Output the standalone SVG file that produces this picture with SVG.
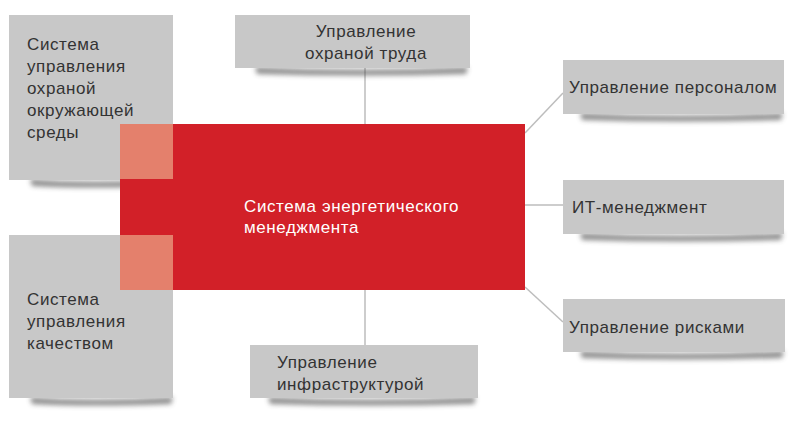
<svg xmlns="http://www.w3.org/2000/svg" width="797" height="423" viewBox="0 0 797 423">
<defs>
<filter id="sh" x="-20%" y="-100%" width="140%" height="300%"><feGaussianBlur stdDeviation="2.5"/></filter>
<style>
.box{fill:#c8c8c8}
.shd{fill:#444;opacity:0.6;filter:url(#sh)}
.t{font-family:"Liberation Sans",Arial,sans-serif;font-size:17px;letter-spacing:0.6px;fill:#333}
.tw{font-family:"Liberation Sans",Arial,sans-serif;font-size:17px;letter-spacing:0.6px;fill:#fff}
.c{stroke:#bdbdbd;stroke-width:1.5;fill:none}
</style>
</defs>
<g id="connectors">
<line class="c" x1="365" y1="68" x2="365" y2="124"/>
<line class="c" x1="365" y1="290" x2="365" y2="345"/>
<line class="c" x1="525" y1="133" x2="563" y2="93"/>
<line class="c" x1="525" y1="205" x2="563" y2="205"/>
<line class="c" x1="525" y1="287" x2="563" y2="322"/>
</g>
<g id="env">
<path class="shd" d="M30 179 Q90 184 173 179 L171 186 Q90 189 32 186 Z"/>
<rect class="box" x="9" y="15" width="164" height="165"/>
<text class="t" x="27" y="50">Система</text>
<text class="t" x="27" y="72">управления</text>
<text class="t" x="27" y="94">охраной</text>
<text class="t" x="27" y="116">окружающей</text>
<text class="t" x="27" y="138">среды</text>
</g>
<g id="quality">
<path class="shd" d="M30 397 Q90 402 173 397 L171 404 Q90 407 32 404 Z"/>
<rect class="box" x="9" y="235" width="164" height="163"/>
<text class="t" x="27" y="305">Система</text>
<text class="t" x="27" y="327">управления</text>
<text class="t" x="27" y="349">качеством</text>
</g>
<g id="labor">
<path class="shd" d="M255 67 Q360 72 468 67 L466 74 Q360 77 257 74 Z"/>
<rect class="box" x="235" y="15" width="235" height="53"/>
<text class="t" x="366" y="37" text-anchor="middle">Управление</text>
<text class="t" x="366" y="59" text-anchor="middle">охраной труда</text>
</g>
<g id="infra">
<path class="shd" d="M268 397 Q370 402 476 397 L474 404 Q370 407 270 404 Z"/>
<rect class="box" x="250" y="345" width="228" height="53"/>
<text class="t" x="277" y="368">Управление</text>
<text class="t" x="277" y="390">инфраструктурой</text>
</g>
<g id="personnel">
<path class="shd" d="M580 113 Q680 118 783 113 L781 120 Q680 123 582 120 Z"/>
<rect class="box" x="563" y="60" width="221" height="54"/>
<text class="t" x="569" y="93">Управление персоналом</text>
</g>
<g id="it">
<path class="shd" d="M580 233 Q680 238 783 233 L781 240 Q680 243 582 240 Z"/>
<rect class="box" x="563" y="180" width="221" height="54"/>
<text class="t" x="572" y="213">ИТ-менеджмент</text>
</g>
<g id="risk">
<path class="shd" d="M580 351 Q680 356 784 351 L782 358 Q680 361 582 358 Z"/>
<rect class="box" x="563" y="299" width="222" height="53"/>
<text class="t" x="569" y="333">Управление рисками</text>
</g>
<g id="energy">
<rect x="120" y="124" width="405" height="166" fill="#d22028"/>
<rect x="120" y="124" width="53" height="55" fill="#e4806c"/>
<rect x="120" y="235" width="53" height="55" fill="#e4806c"/>
<text class="tw" x="244" y="212">Система энергетического</text>
<text class="tw" x="244" y="233">менеджмента</text>
</g>
</svg>
